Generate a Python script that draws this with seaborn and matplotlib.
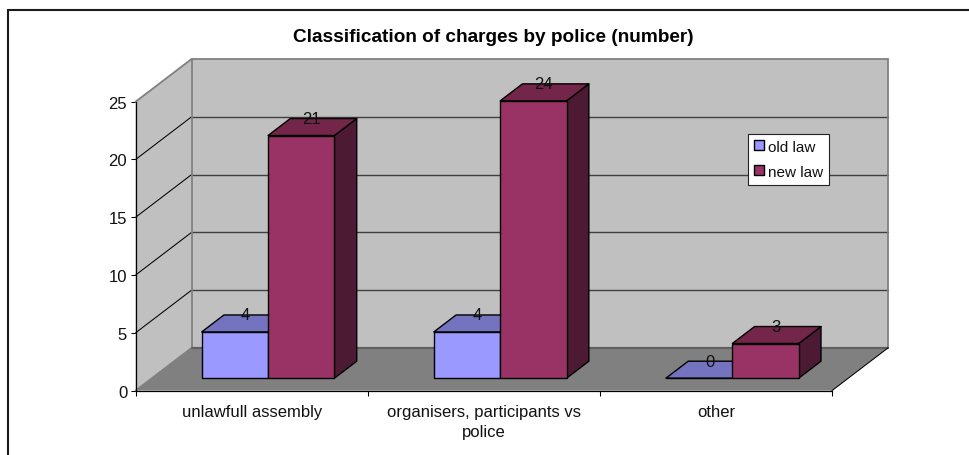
import matplotlib
matplotlib.use("Agg")
import matplotlib.pyplot as plt
from matplotlib.lines import Line2D
from matplotlib.patches import Polygon, Rectangle
from matplotlib.transforms import Affine2D
import pandas as pd
import seaborn as sns

categories = ["unlawfull assembly", "organisers, participants vs\npolice", "other"]
old_law = [4, 4, 0]
new_law = [21, 24, 3]
series_names = ["old law", "new law"]
y_ticks = [0, 5, 10, 15, 20, 25]
title = "Classification of charges by police (number)"

WALL, WALL_EDGE, FLOOR, FLOOR_BACK = "#C0C0C0", "#808080", "#808080", "#606060"
FRONT = {"old law": "#9999FF", "new law": "#993366"}
TOP = {"old law": "#7373BF", "new law": "#732649"}
SIDE = {"old law": "#4D4D80", "new law": "#4D1A33"}

W, H, DPI = 969, 456, 100
AX_L, AX_R, AX_T, AX_B = 135.6, 832.0, 102.7, 391.6
CAT_PX = (AX_R - AX_L) / 3
UNIT_PX = (AX_B - AX_T) / 25

# Oblique projection: depth 0 is the front of the floor, depth 1 the back wall.
DEPTH_X = 56.0 / CAT_PX
DEPTH_Y = 42.7 / UNIT_PX
BAR_FRONT = 0.314
BAR_BACK = 0.712
# Bars sit slightly left of and below the pure projection
BAR_NUDGE_X = 1.2 / CAT_PX
BAR_NUDGE_Y = 1.0 / UNIT_PX


def project(x, v, depth):
    return x + depth * DEPTH_X, v + depth * DEPTH_Y


def bar_point(x, v, depth):
    px, pv = project(x, v, depth)
    return px - BAR_NUDGE_X, pv - BAR_NUDGE_Y


sns.set_style("ticks")
plt.rcParams["font.family"] = ["Liberation Sans", "DejaVu Sans"]
plt.rcParams["font.size"] = 12
plt.rcParams["text.color"] = "#111111"

fig = plt.figure(figsize=(W / DPI, H / DPI), dpi=DPI, facecolor="white")
ax = fig.add_axes([AX_L / W, 1 - AX_B / H, (AX_R - AX_L) / W, (AX_B - AX_T) / H])

table = pd.DataFrame({
    "category": categories * 2,
    "count": old_law + new_law,
    "law": [series_names[0]] * 3 + [series_names[1]] * 3,
})
sns.barplot(data=table, x="category", y="count", hue="law", hue_order=series_names,
            palette=FRONT, saturation=1, width=0.572, gap=0, dodge=True,
            edgecolor="black", linewidth=1.0, ax=ax, legend=False)

x0, x1 = -0.5, 2.5
v0, v1 = 0, 25
ax.set_xlim(x0, x1)
ax.set_ylim(v0, v1)
ax.set_xlabel("")
ax.set_ylabel("")
ax.patch.set_visible(False)


def face(points, color, edge=None, lw=0.0, z=1.0):
    ax.add_patch(Polygon(points, closed=True, facecolor=color, edgecolor=edge or color,
                         linewidth=lw, zorder=z, clip_on=False, joinstyle="round"))


def line(p, q, color, lw, z):
    ax.add_line(Line2D([p[0], q[0]], [p[1], q[1]], color=color, linewidth=lw, zorder=z,
                       clip_on=False))


# Walls and floor of the box
face([project(x0, v0, 0), project(x0, v1, 0), project(x0, v1, 1), project(x0, v0, 1)], WALL, z=1.0)
face([project(x0, v0, 1), project(x0, v1, 1), project(x1, v1, 1), project(x1, v0, 1)], WALL, z=1.0)
face([project(x0, v0, 0), project(x1, v0, 0), project(x1, v0, 1), project(x0, v0, 1)], FLOOR, z=1.0)

for tick in y_ticks[1:-1]:
    line(project(x0, tick, 1), project(x1, tick, 1), "#404040", 1.0, 1.2)
    line(project(x0, tick, 0), project(x0, tick, 1), "black", 0.75, 1.2)
line(project(x0, v1, 0), project(x0, v1, 1), WALL_EDGE, 1.3, 1.3)
line(project(x0, v1, 1), project(x1, v1, 1), WALL_EDGE, 1.3, 1.3)
line(project(x0, v0, 0), project(x0, v0, 1), WALL_EDGE, 1.3, 1.3)
line(project(x0, v0, 1), project(x0, v1, 1), WALL_EDGE, 1.3, 1.3)
line(project(x1, v0, 1), project(x1, v1, 1), WALL_EDGE, 1.3, 1.3)
line(project(x0, v0, 1), project(x1, v0, 1), FLOOR_BACK, 1.6, 1.3)
line(project(x1, v0, 0), project(x1, v0, 1), "black", 0.75, 1.3)

# Extrude each seaborn bar into the box and label it
shift = (Affine2D().translate(BAR_FRONT * DEPTH_X - BAR_NUDGE_X,
                              BAR_FRONT * DEPTH_Y - BAR_NUDGE_Y) + ax.transData)
for order, (name, container) in enumerate(zip(series_names, ax.containers)):
    base_z = 3 + order
    for patch, value in zip(container.patches, table.loc[table["law"] == name, "count"]):
        left = patch.get_x()
        right = left + patch.get_width()
        patch.set_transform(shift)
        patch.set_clip_on(False)
        patch.set_zorder(base_z + 0.2)
        face([bar_point(left, value, BAR_FRONT), bar_point(right, value, BAR_FRONT),
              bar_point(right, value, BAR_BACK), bar_point(left, value, BAR_BACK)],
             TOP[name], "black", 1.0, base_z + 0.1)
        if value > 0:
            face([bar_point(right, 0, BAR_FRONT), bar_point(right, value, BAR_FRONT),
                  bar_point(right, value, BAR_BACK), bar_point(right, 0, BAR_BACK)],
                 SIDE[name], "black", 1.0, base_z)
        tx, _ = bar_point((left + right) / 2, value, 0.50)
        _, ty = bar_point(0, value, BAR_BACK)
        ax.text(tx, ty, str(value), ha="center", va="center", fontsize=12,
                color="#111111", zorder=8)

# Axes: ticks bound the categories, names sit between them
for side in ("top", "right"):
    ax.spines[side].set_visible(False)
for side in ("left", "bottom"):
    ax.spines[side].set_color("black")
    ax.spines[side].set_linewidth(0.9)
    ax.spines[side].set_zorder(2)
ax.set_yticks(y_ticks)
ax.set_xticks([x0, 0.5, 1.5, x1])
ax.set_xticklabels([])
ax.set_xticks([0, 1, 2], labels=categories, minor=True, linespacing=1.43)
ax.tick_params(axis="y", length=3.6, width=0.75, color="black", pad=2.5, labelsize=12, labelcolor="#111111")
ax.tick_params(axis="x", which="major", length=3.6, width=0.75, color="black")
ax.tick_params(axis="x", which="minor", length=0, pad=9.8, labelsize=12, labelcolor="#111111")

handles = [Rectangle((0, 0), 1, 1, facecolor=FRONT[n], edgecolor="black", linewidth=1.0) for n in series_names]
legend = fig.legend(handles, series_names, loc="upper left",
                    bbox_to_anchor=(748.3 / W, 1 - 134.5 / H), fontsize=11,
                    frameon=True, fancybox=False, framealpha=1, facecolor="white",
                    edgecolor="#222222", borderpad=0.4, labelspacing=0.72,
                    handlelength=0.6, handleheight=0.6, handletextpad=0.3, borderaxespad=0)
legend.get_frame().set_linewidth(0.8)
legend.set_zorder(10)

fig.text(493.5 / W, 1 - 37.5 / H, title, ha="center", va="center", fontsize=13.7,
         fontweight="bold", color="black")

# Chart-area border runs off the lower and right edges of the figure
fig.add_artist(Rectangle((7.5 / W, -0.05), 1.1, 1.05 - 10.5 / H, transform=fig.transFigure,
                         facecolor="none", edgecolor="#1a1a1a", linewidth=1.5))

fig.savefig("out.png", dpi=DPI)
